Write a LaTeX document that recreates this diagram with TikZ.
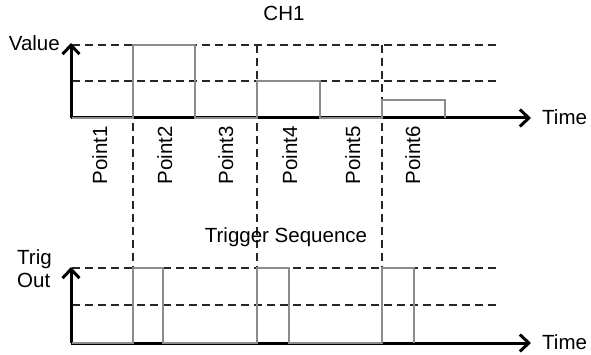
\documentclass[tikz,border=0pt]{standalone}
\usepackage{fontspec}
\setmainfont{Liberation Sans}
\usetikzlibrary{arrows.meta}
\begin{document}
\begin{tikzpicture}[x=1pt,y=-1pt,
  axis/.style={line width=3pt, draw=black, -{Straight Barb[length=9pt,width=17pt]}},
  wave/.style={line width=1.6pt, draw=black!45},
  griddash/.style={line width=1.2pt, draw=black!85, dash pattern=on 8pt off 5pt},
  lbl/.style={font=\fontsize{20.5}{23}\selectfont, inner sep=0pt}]
\useasboundingbox (0,0) rectangle (591,355);

% ---- coordinates ----
\coordinate (o1) at (71,118);
\coordinate (y1) at (71,43);
\coordinate (x1) at (531,118);
\coordinate (o2) at (71,343);
\coordinate (y2) at (71,267);
\coordinate (x2) at (531,343);

% ---- dashed guide lines ----
\draw[griddash] (72,45) -- (498,45);
\draw[griddash] (72,81) -- (498,81);
\draw[griddash] (72,268) -- (498,268);
\draw[griddash] (72,305) -- (498,305);
\draw[griddash] (133,45) -- (133,268);
\draw[griddash] (257,45) -- (257,268);
\draw[griddash] (382,45) -- (382,268);

% ---- axes ----
\draw[axis] (o1) -- (y1);
\draw[axis] (o1) -- (x1);
\draw[axis] (o2) -- (y2);
\draw[axis] (o2) -- (x2);

% ---- waveforms ----
\draw[wave] (72,118) -- (133,118) -- (133,45) -- (195,45) -- (195,118)
  -- (257,118) -- (257,81) -- (320,81) -- (320,118) -- (382,118)
  -- (382,100) -- (445,100) -- (445,118);
\draw[wave] (72,343) -- (133,343) -- (133,268) -- (163,268) -- (163,343)
  -- (257,343) -- (257,268) -- (289,268) -- (289,343) -- (382,343)
  -- (382,268) -- (414,268) -- (414,343);

% ---- labels ----
\node[lbl, anchor=base] (ch1) at (284,21) {CH1};
\node[lbl, anchor=base east] (value) at (60,51) {Value};
\node[lbl, anchor=base west] (time1) at (542,125) {Time};
\node[lbl, anchor=base west] (time2) at (542,349) {Time};
\node[lbl, anchor=base] (trigseq) at (286,243) {Trigger Sequence};
\node[lbl, anchor=base west] (trig) at (17,265) {Trig};
\node[lbl, anchor=base west] (out) at (17,287) {Out};

\node[lbl, rotate=90, anchor=base] (p1) at (107,155.5) {Point1};
\node[lbl, rotate=90, anchor=base] (p2) at (172,155.5) {Point2};
\node[lbl, rotate=90, anchor=base] (p3) at (233,155.5) {Point3};
\node[lbl, rotate=90, anchor=base] (p4) at (297,155.5) {Point4};
\node[lbl, rotate=90, anchor=base] (p5) at (360,155.5) {Point5};
\node[lbl, rotate=90, anchor=base] (p6) at (420,155.5) {Point6};
\end{tikzpicture}
\end{document}
